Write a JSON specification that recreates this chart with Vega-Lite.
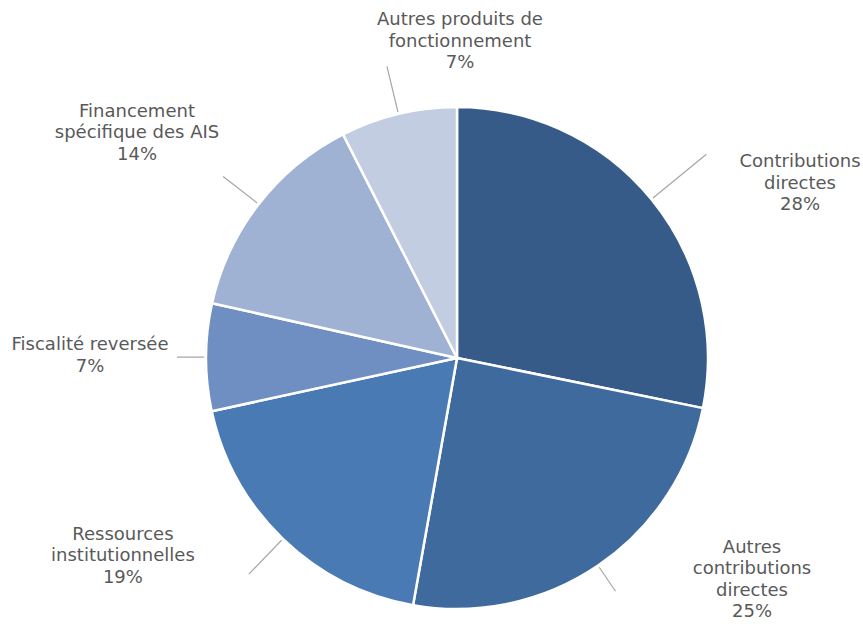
{
  "$schema": "https://vega.github.io/schema/vega-lite/v6.json",
  "width": 502,
  "height": 502,
  "autosize": {"type": "none"},
  "padding": {"left": 206, "top": 107, "right": 155, "bottom": 15},
  "background": "white",
  "config": {"view": {"stroke": null}},
  "data": {
    "values": [
      {"idx": 1, "label": "Contributions directes", "value": 28.2, "txt": "Contributions\ndirectes\n28%"},
      {"idx": 2, "label": "Autres contributions directes", "value": 24.6, "txt": "Autres\ncontributions\ndirectes\n25%"},
      {"idx": 3, "label": "Ressources institutionnelles", "value": 18.8, "txt": "Ressources\ninstitutionnelles\n19%"},
      {"idx": 4, "label": "Fiscalité reversée", "value": 6.9, "txt": "Fiscalité reversée\n7%"},
      {"idx": 5, "label": "Financement spécifique des AIS", "value": 14.0, "txt": "Financement\nspécifique des AIS\n14%"},
      {"idx": 6, "label": "Autres produits de fonctionnement", "value": 7.5, "txt": "Autres produits de\nfonctionnement\n7%"}
    ]
  },
  "encoding": {
    "theta": {"field": "value", "type": "quantitative", "stack": true},
    "order": {"field": "idx", "type": "quantitative"}
  },
  "layer": [
    {
      "mark": {"type": "arc", "stroke": "white", "strokeWidth": 2.5},
      "encoding": {
        "color": {
          "field": "label",
          "type": "nominal",
          "scale": {
            "domain": ["Contributions directes", "Autres contributions directes", "Ressources institutionnelles", "Fiscalité reversée", "Financement spécifique des AIS", "Autres produits de fonctionnement"],
            "range": ["#375b89", "#3f6a9d", "#4a7ab4", "#6f8fc3", "#9fb2d4", "#c2cde2"]
          },
          "legend": null
        }
      }
    },
    {
      "mark": {"type": "arc", "padAngle": 3.1416, "fillOpacity": 0, "stroke": "#a6a6a6", "strokeWidth": 1.2},
      "encoding": {
        "radius": {"value": 322}, "radius2": {"value": 253},
        "strokeOpacity": {"condition": {"test": "datum.idx === 1", "value": 1}, "value": 0}
      }
    },
    {
      "mark": {"type": "arc", "padAngle": 3.1416, "fillOpacity": 0, "stroke": "#a6a6a6", "strokeWidth": 1.2},
      "encoding": {
        "radius": {"value": 282}, "radius2": {"value": 253},
        "strokeOpacity": {"condition": {"test": "datum.idx === 2", "value": 1}, "value": 0}
      }
    },
    {
      "mark": {"type": "arc", "padAngle": 3.1416, "fillOpacity": 0, "stroke": "#a6a6a6", "strokeWidth": 1.2},
      "encoding": {
        "radius": {"value": 300}, "radius2": {"value": 253},
        "strokeOpacity": {"condition": {"test": "datum.idx === 3", "value": 1}, "value": 0}
      }
    },
    {
      "mark": {"type": "arc", "padAngle": 3.1416, "fillOpacity": 0, "stroke": "#a6a6a6", "strokeWidth": 1.2},
      "encoding": {
        "radius": {"value": 280}, "radius2": {"value": 253},
        "strokeOpacity": {"condition": {"test": "datum.idx === 4", "value": 1}, "value": 0}
      }
    },
    {
      "mark": {"type": "arc", "padAngle": 3.1416, "fillOpacity": 0, "stroke": "#a6a6a6", "strokeWidth": 1.2},
      "encoding": {
        "radius": {"value": 296}, "radius2": {"value": 253},
        "strokeOpacity": {"condition": {"test": "datum.idx === 5", "value": 1}, "value": 0}
      }
    },
    {
      "mark": {"type": "arc", "padAngle": 3.1416, "fillOpacity": 0, "stroke": "#a6a6a6", "strokeWidth": 1.2},
      "encoding": {
        "radius": {"value": 300}, "radius2": {"value": 253},
        "strokeOpacity": {"condition": {"test": "datum.idx === 6", "value": 1}, "value": 0}
      }
    },
    {
      "mark": {"type": "text", "font": "DejaVu Sans", "fontSize": 18, "lineHeight": 21.5, "lineBreak": "\n", "fill": "#595959", "align": "center", "baseline": "middle", "dx": 148.6, "dy": -37.2},
      "encoding": {"radius": {"value": 251}, "text": {"condition": {"test": "datum.idx === 1", "field": "txt"}, "value": ""}}
    },
    {
      "mark": {"type": "text", "font": "DejaVu Sans", "fontSize": 18, "lineHeight": 21.5, "lineBreak": "\n", "fill": "#595959", "align": "center", "baseline": "middle", "dx": 153.9, "dy": -17.6},
      "encoding": {"radius": {"value": 251}, "text": {"condition": {"test": "datum.idx === 2", "field": "txt"}, "value": ""}}
    },
    {
      "mark": {"type": "text", "font": "DejaVu Sans", "fontSize": 18, "lineHeight": 21.5, "lineBreak": "\n", "fill": "#595959", "align": "center", "baseline": "middle", "dx": -160, "dy": -3.9},
      "encoding": {"radius": {"value": 251}, "text": {"condition": {"test": "datum.idx === 3", "field": "txt"}, "value": ""}}
    },
    {
      "mark": {"type": "text", "font": "DejaVu Sans", "fontSize": 18, "lineHeight": 21.5, "lineBreak": "\n", "fill": "#595959", "align": "center", "baseline": "middle", "dx": -116, "dy": -12.1},
      "encoding": {"radius": {"value": 251}, "text": {"condition": {"test": "datum.idx === 4", "field": "txt"}, "value": ""}}
    },
    {
      "mark": {"type": "text", "font": "DejaVu Sans", "fontSize": 18, "lineHeight": 21.5, "lineBreak": "\n", "fill": "#595959", "align": "center", "baseline": "middle", "dx": -121.7, "dy": -92.2},
      "encoding": {"radius": {"value": 251}, "text": {"condition": {"test": "datum.idx === 5", "field": "txt"}, "value": ""}}
    },
    {
      "mark": {"type": "text", "font": "DejaVu Sans", "fontSize": 18, "lineHeight": 21.5, "lineBreak": "\n", "fill": "#595959", "align": "center", "baseline": "middle", "dx": 61.6, "dy": -93.9},
      "encoding": {"radius": {"value": 251}, "text": {"condition": {"test": "datum.idx === 6", "field": "txt"}, "value": ""}}
    }
  ]
}
